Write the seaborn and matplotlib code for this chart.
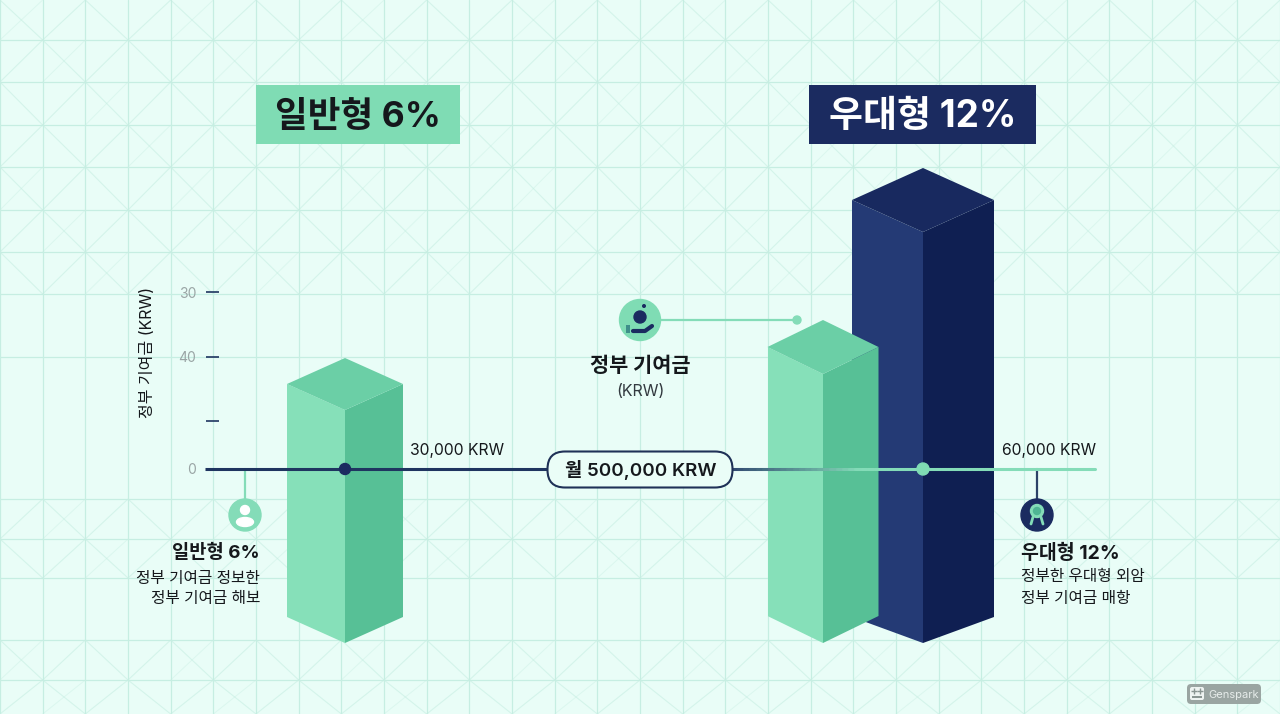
import numpy as np
import seaborn as sns
import matplotlib.pyplot as plt
from matplotlib.collections import LineCollection
from matplotlib.colors import to_rgb
from matplotlib.patches import Circle, Ellipse, FancyBboxPatch, Polygon, Rectangle

# values, heights counted from the base line
bar_names = ['일반형 6%', '우대형 12%', '우대형 12%']
bar_tops = [85, 122, 269]
bar_bottoms = [-148, -147, -148]
tick_values = [177, 112, 48, 0]
tick_labels = ['30', '40', '', '0']
grant_values = [30000, 60000]
monthly_value = 500000

GREEN = '#7fdcb4'
LINE_GREEN = '#84dcb8'
NAVY = '#1b2b60'
BG = '#e9fdf7'
GRID = '#c6eee2'
INK = '#15181c'
FONT = ['Inter', 'Noto Sans CJK KR', 'DejaVu Sans']

sns.set_theme(style='white', rc={'axes.facecolor': BG, 'figure.facecolor': BG})
plt.rcParams['font.family'] = FONT

fig = plt.figure(figsize=(12.8, 7.14), dpi=100)
ax = fig.add_axes([0, 0, 1, 1])
BASE = 469


# picture rows to axis values
def py(row):
    return BASE - row


# background sheet
col_lines = np.arange(0, 1281, 42.67)
row_lines = [0, 40, 82, 125, 167, 210, 252, 294, 357, 499, 539, 578, 640, 680, 714]
for gx in col_lines:
    ax.axvline(gx, color=GRID, lw=0.9, zorder=1)
for gy in row_lines[1:-1]:
    ax.axhline(py(gy), color=GRID, lw=0.9, zorder=1)

main_diag = []
soft_diag = []
for j, (r0, r1) in enumerate(zip(row_lines[:-1], row_lines[1:])):
    if r0 in (294, 357, 578):
        continue
    for i, (c0, c1) in enumerate(zip(col_lines[:-1], col_lines[1:])):
        if (i + j) % 2 == 0:
            main = [(c0, py(r0)), (c1, py(r1))]
            other = [(c0, py(r1)), (c1, py(r0))]
        else:
            main = [(c0, py(r1)), (c1, py(r0))]
            other = [(c0, py(r0)), (c1, py(r1))]
        main_diag.append(main)
        if (i * 3 + j * 5) % 4 == 0:
            soft_diag.append(other)
ax.add_collection(LineCollection(main_diag, colors=GRID, linewidths=0.8, alpha=0.6, zorder=1))
ax.add_collection(LineCollection(soft_diag, colors=GRID, linewidths=0.7, alpha=0.4, zorder=1))


# one box: two seaborn bars cut to the slanted faces, plus the roof
def draw_box(center, half, top, bottom, rise, low_rise, colors, z):
    left_c, right_c, roof_c = colors
    low = bottom - low_rise
    for side, col in ((-1, left_c), (1, right_c)):
        sns.barplot(x=[center + side * half / 2], y=[top - low], bottom=low,
                    width=half, native_scale=True, color=col, saturation=1,
                    errorbar=None, linewidth=0, zorder=z, ax=ax)
        bar = ax.patches[-1]
        edge = center + side * half
        face = Polygon([(edge, top), (center, top - rise), (center, low), (edge, bottom)],
                       transform=ax.transData)
        bar.set_clip_path(face)
    ax.add_patch(Polygon([(center - half, top), (center, top + rise), (center + half, top),
                          (center, top - rise)], color=roof_c, lw=0, zorder=z))


green_faces = ('#86e0b9', '#57c096', '#6bcfa6')
navy_faces = ('#243a75', '#0f1f52', '#18295f')
draw_box(923, 71, bar_tops[2], bar_bottoms[2], 32, 26, navy_faces, 3)
draw_box(823, 55.5, bar_tops[1], bar_bottoms[1], 27, 27, green_faces, 4)
draw_box(345, 58, bar_tops[0], bar_bottoms[0], 26, 26, green_faces, 4)

# base line, navy on the left and fading into green on the right
ax.plot([205, 548], [0, 0], color='#1f3560', lw=2.2, zorder=6, solid_capstyle='butt')
xs = np.linspace(732, 1095, 60)
fade = np.clip((xs - 732) / 125, 0, 1)[:, None]
cols = np.array([0.20, 0.30, 0.45]) * (1 - fade) + np.array(to_rgb(LINE_GREEN)) * fade
ax.add_collection(LineCollection([[(a, 0), (b, 0)] for a, b in zip(xs[:-1], xs[1:])],
                                 colors=cols[:-1], linewidths=2.2, zorder=6, capstyle='round'))
ax.add_patch(Circle((345, 0), 5.5, color=NAVY, zorder=7))
ax.add_patch(Circle((923, 0), 6, color=GREEN, zorder=7))

# month pill
ax.add_patch(FancyBboxPatch((565, py(470)), 150, 1, boxstyle='round,pad=17.5,rounding_size=17.5',
                            fc='#eafdf7', ec='#1f3157', lw=1.5, zorder=8))
ax.text(640.5, py(470), f'월 {monthly_value:,} KRW', ha='center', va='center', fontsize=13.5,
        fontweight='semibold', color=INK, zorder=9)

ax.text(457, py(450.5), f'{grant_values[0]:,} KRW', ha='center', va='center', fontsize=11.3, color=INK, zorder=9)
ax.text(1049, py(450.5), f'{grant_values[1]:,} KRW', ha='center', va='center', fontsize=11.3, color=INK, zorder=9)

# headline boxes
ax.add_patch(Rectangle((256, py(144)), 204, 59, color=GREEN, lw=0, zorder=5))
ax.add_patch(Rectangle((809, py(144)), 227, 59, color=NAVY, lw=0, zorder=5))
ax.text(358, py(117), bar_names[0], ha='center', va='center', fontsize=25.6, fontweight='bold', color=INK, zorder=6)
ax.text(922.5, py(117), bar_names[1], ha='center', va='center', fontsize=26.6, fontweight='bold', color='white', zorder=6)

# axis label
ax.text(148, py(352), '정부 기여금 (KRW)', rotation=90, ha='center', va='center', fontsize=11.5, color=INK)

# middle callout
ax.plot([660, 797], [py(320)] * 2, color=LINE_GREEN, lw=1.6, zorder=2)
ax.add_patch(Circle((797, py(320)), 4, color=LINE_GREEN, zorder=2))
ax.add_patch(Circle((640, py(320)), 20.5, color=GREEN, zorder=5))
ax.add_patch(Circle((640, py(317)), 6, color=NAVY, zorder=6))
ax.add_patch(Circle((644, py(306)), 1.3, color=NAVY, zorder=6))
ax.plot([633, 645, 652], [py(331), py(331), py(326)], color=NAVY, lw=3, zorder=6, solid_capstyle='round')
ax.add_patch(Rectangle((626, py(333)), 4, 8, color='#3f8f8a', lw=0, zorder=6))
ax.text(640, py(366), '정부 기여금', ha='center', va='center', fontsize=15, fontweight='bold', color=INK)
ax.text(640, py(391), '(KRW)', ha='center', va='center', fontsize=11.5, color='#333a40')

# left callout
ax.plot([245, 245], [0, py(500)], color=LINE_GREEN, lw=1.6, zorder=2)
ax.add_patch(Circle((245, py(515)), 16, color=LINE_GREEN, zorder=5))
ax.add_patch(Circle((245, py(510)), 4.5, color='white', zorder=6))
ax.add_patch(Ellipse((245, py(522)), 17, 9, color='white', zorder=6))
ax.text(260, py(553), '일반형 6%', ha='right', va='center', fontsize=13.5, fontweight='bold', color=INK)
ax.text(260, py(578), '정부 기여금 정보한', ha='right', va='center', fontsize=11.3, color=INK)
ax.text(260, py(599), '정부 기여금 해보', ha='right', va='center', fontsize=11.3, color=INK)

# right callout
ax.plot([1037, 1037], [0, py(500)], color='#2c4268', lw=1.6, zorder=2)
ax.add_patch(Circle((1037, py(515)), 16, color=NAVY, zorder=5))
ax.plot([1033, 1031], [py(517), py(524)], color=LINE_GREEN, lw=2, zorder=6)
ax.plot([1041, 1043], [py(517), py(524)], color=LINE_GREEN, lw=2, zorder=6)
ax.add_patch(Circle((1037, py(511)), 6.5, color=LINE_GREEN, zorder=7))
ax.add_patch(Circle((1037, py(511)), 3.5, color='#4fb594', zorder=8))
ax.text(1021, py(553), '우대형 12%', ha='left', va='center', fontsize=14, fontweight='bold', color=INK)
ax.text(1021, py(576), '정부한 우대형 외암', ha='left', va='center', fontsize=11.3, color=INK)
ax.text(1021, py(598), '정부 기여금 매항', ha='left', va='center', fontsize=11.3, color=INK)

# badge
ax.add_patch(FancyBboxPatch((1190, py(701)), 68, 14, boxstyle='round,pad=3,rounding_size=4',
                            fc='#9aa5a2', ec='none', zorder=9))
ax.add_patch(FancyBboxPatch((1191, py(699)), 12, 11, boxstyle='round,pad=1,rounding_size=2',
                            fc='#eef3f1', ec='none', zorder=10))
ax.add_patch(Rectangle((1192, py(698)), 10, 1.6, color='#8a9592', lw=0, zorder=11))
ax.plot([1194, 1200], [py(691), py(691)], ls='none', marker='+', ms=4, mew=1, color='#8a9592', zorder=11)
ax.text(1233.5, py(694.5), 'Genspark', ha='center', va='center', fontsize=8, color='#e6ecea', zorder=10)

# y axis ticks from the chart's own axis
ax.set_xlim(0, 1280)
ax.set_ylim(py(714), py(0))
ax.set_xlabel('')
ax.set_ylabel('')
ax.set_xticks([])
ax.set_yticks(tick_values)
ax.set_yticklabels(tick_labels)
ax.set_axisbelow(False)
ax.spines['left'].set_position(('data', 219))
for name in ['left', 'right', 'top', 'bottom']:
    ax.spines[name].set_visible(False)
ax.tick_params(axis='y', left=True, length=9.5, width=1.2, color='#1f3560', pad=7,
               labelsize=10, labelcolor='#9aa5a5', direction='out')

fig.savefig('out.png', dpi=100)
